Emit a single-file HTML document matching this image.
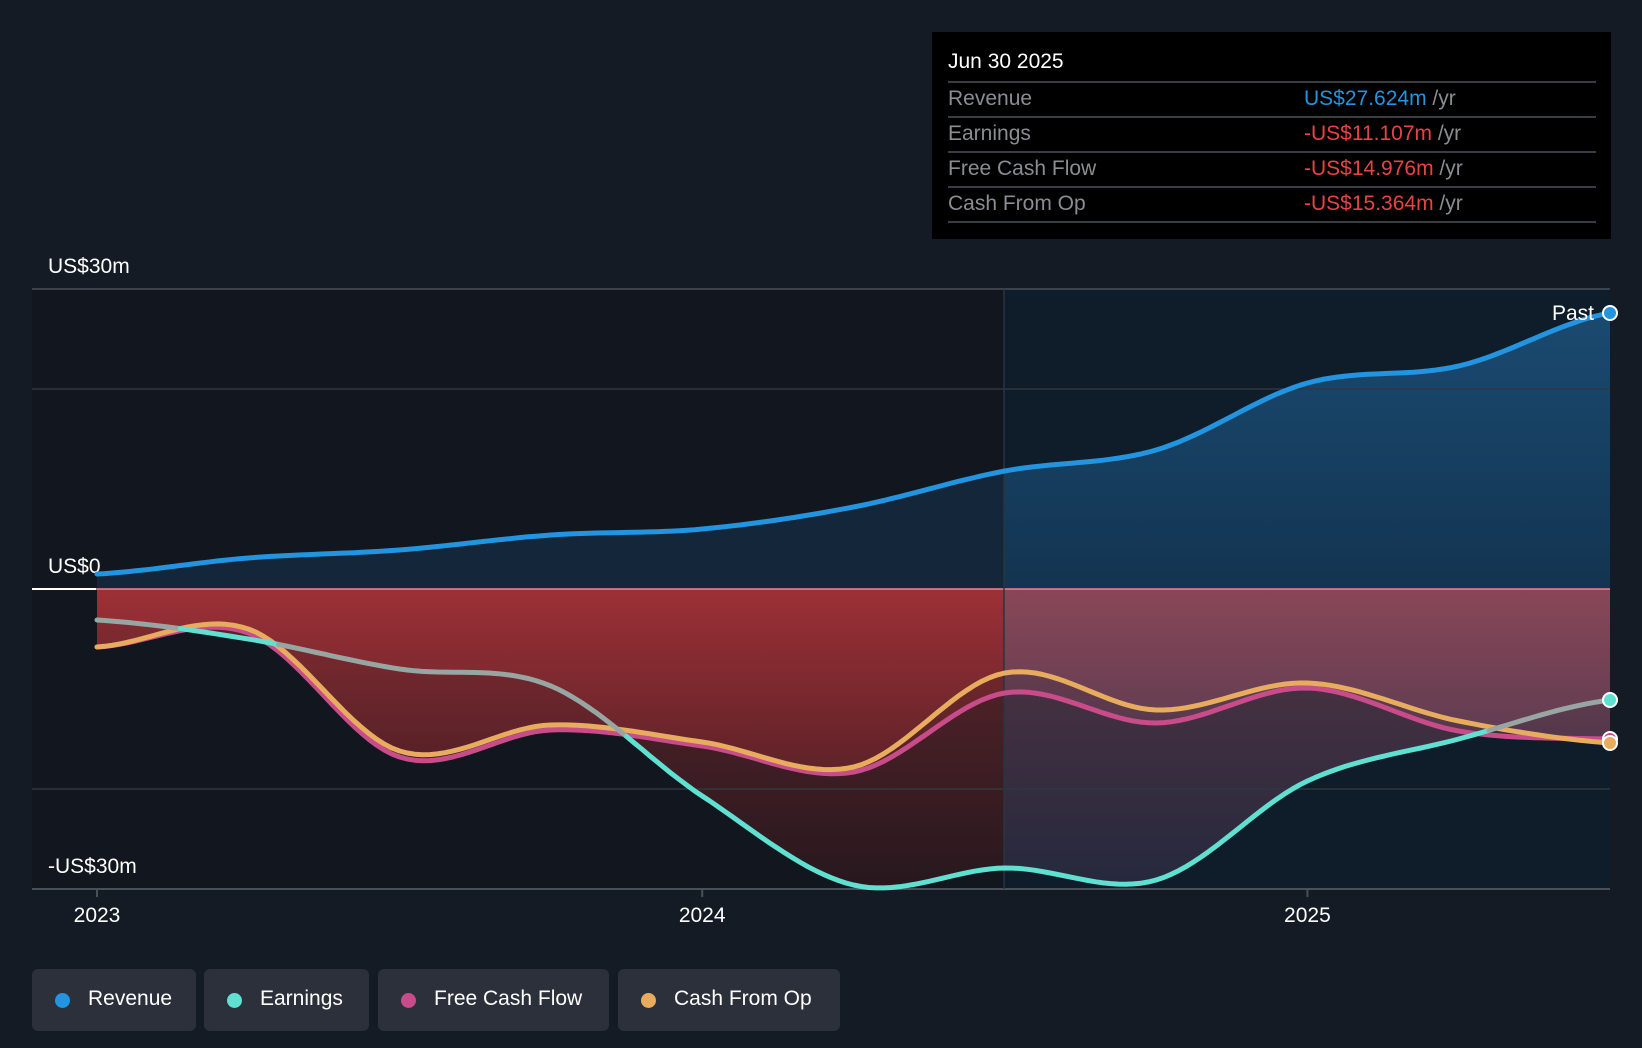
<!DOCTYPE html>
<html><head><meta charset="utf-8">
<style>
html,body{margin:0;padding:0;background:#151b24;width:1642px;height:1048px;overflow:hidden;font-family:"Liberation Sans",sans-serif;}
svg{position:absolute;left:0;top:0;}
.tip{position:absolute;left:932px;top:32px;width:679px;height:207px;background:#000;}
.tip .d{position:absolute;left:16px;top:18px;color:#fff;font-size:21px;}
.row{position:absolute;left:16px;width:648px;height:34px;border-top:2px solid #3a3d42;font-size:21px;color:#8a8d91;}
.row span.l{position:absolute;left:0;top:4px;}
.row span.v{position:absolute;left:356px;top:4px;}
.leg{position:absolute;top:969px;height:62px;background:#2b303a;border-radius:6px;color:#fff;font-size:21px;}
.leg i{position:absolute;left:23px;top:24px;width:15px;height:15px;border-radius:50%;}
.leg span{position:absolute;left:56px;top:18px;}
</style></head><body>
<svg id="chart" width="1642" height="1048"></svg>
<div class="tip">
  <div class="d">Jun 30 2025</div>
  <div class="row" style="top:49px"><span class="l">Revenue</span><span class="v"><b style="font-weight:normal;color:#2394df">US$27.624m</b> /yr</span></div>
  <div class="row" style="top:84px"><span class="l">Earnings</span><span class="v"><b style="font-weight:normal;color:#e84343">-US$11.107m</b> /yr</span></div>
  <div class="row" style="top:119px"><span class="l">Free Cash Flow</span><span class="v"><b style="font-weight:normal;color:#e84343">-US$14.976m</b> /yr</span></div>
  <div class="row" style="top:154px"><span class="l">Cash From Op</span><span class="v"><b style="font-weight:normal;color:#e84343">-US$15.364m</b> /yr</span></div>
  <div class="row" style="top:189px;height:0"></div>
</div>
<div class="leg" style="left:32px;width:164px"><i style="background:#2394df"></i><span>Revenue</span></div>
<div class="leg" style="left:204px;width:165px"><i style="background:#5fe0d0"></i><span>Earnings</span></div>
<div class="leg" style="left:378px;width:231px"><i style="background:#c84b8a"></i><span>Free Cash Flow</span></div>
<div class="leg" style="left:618px;width:222px"><i style="background:#e8ac5e"></i><span>Cash From Op</span></div>
<script>
const times=[0,0.25,0.5,0.75,1,1.25,1.5,1.75,2,2.25,2.5];
const revenue=[1.5,3.1,3.9,5.4,6.0,8.2,11.8,13.9,20.6,22.3,27.6];
const earnings=[-3.1,-5.0,-8.0,-9.7,-20.7,-29.6,-27.9,-29.1,-19.2,-15.0,-11.1];
const fcf=[-5.8,-4.4,-16.8,-14.1,-15.7,-18.3,-10.4,-13.4,-9.9,-14.2,-15.0];
const cfo=[-5.8,-4.0,-16.2,-13.6,-15.3,-17.8,-8.4,-12.1,-9.4,-13.2,-15.4];
const yTicks=[30,0,-30];
const yTickLabels=["US$30m","US$0","-US$30m"];
const gridValues=[30,20,-20,-30];
const xTicks=[0,1,2];
const xTickLabels=["2023","2024","2025"];

const NS="http://www.w3.org/2000/svg";
const svg=document.getElementById('chart');
const L=32,R=1610,T=289,B=889;
const X=t=>97+t*605.2;
const Y=v=>589-v*10;
function el(tag,attrs,parent){const e=document.createElementNS(NS,tag);for(const k in attrs)e.setAttribute(k,attrs[k]);(parent||svg).appendChild(e);return e;}
function sample(vals){const pts=[];const n=vals.length;for(let i=0;i<n-1;i++){const p0=vals[Math.max(0,i-1)],p1=vals[i],p2=vals[i+1],p3=vals[Math.min(n-1,i+2)];for(let s=0;s<20;s++){const u=s/20;const v=0.5*((2*p1)+(-p0+p2)*u+(2*p0-5*p1+4*p2-p3)*u*u+(-p0+3*p1-3*p2+p3)*u*u*u);pts.push([times[i]+(times[i+1]-times[i])*u,v]);}}pts.push([times[n-1],vals[n-1]]);return pts;}
const sR=sample(revenue),sE=sample(earnings),sF=sample(fcf),sC=sample(cfo);

const defs=el('defs',{});
const g1=el('linearGradient',{id:'redL',x1:0,y1:589,x2:0,y2:889,gradientUnits:'userSpaceOnUse'},defs);
el('stop',{offset:'0','stop-color':'#b0343a'},g1);el('stop',{offset:'1','stop-color':'#3a1a1e'},g1);
const g2=el('linearGradient',{id:'redR',x1:0,y1:589,x2:0,y2:889,gradientUnits:'userSpaceOnUse'},defs);
el('stop',{offset:'0','stop-color':'#9a4d5e'},g2);el('stop',{offset:'1','stop-color':'#3a3550'},g2);
const g3=el('linearGradient',{id:'blueR',x1:0,y1:0,x2:0,y2:1},defs);
el('stop',{offset:'0','stop-color':'#1a4a70'},g3);el('stop',{offset:'1','stop-color':'#133451'},g3);
const cpL=el('clipPath',{id:'cL'},defs);el('rect',{x:L,y:0,width:1004-L,height:1048},cpL);
const cpR=el('clipPath',{id:'cR'},defs);el('rect',{x:1004,y:0,width:R-1004,height:1048},cpR);
const cpA=el('clipPath',{id:'cA'},defs);el('rect',{x:L,y:0,width:R-L,height:1048},cpA);

let bg=el('rect',{x:L,y:T,width:1004-L,height:B-T,fill:'#12161e'});

let bg2=el('rect',{x:1004,y:T,width:R-1004,height:B-T,fill:'#0f1c29'});


const toPts=s=>s.map(p=>X(p[0]).toFixed(1)+','+Y(p[1]).toFixed(1)).join(' ');
const revArea=toPts(sR)+' '+X(times[times.length-1])+','+Y(0)+' '+X(times[0])+','+Y(0);
let a1=el('polygon',{points:revArea,fill:'#13263a','clip-path':'url(#cL)'});

let a2=el('polygon',{points:revArea,fill:'url(#blueR)','clip-path':'url(#cR)'});

[[sE,'earnings-area'],[sF,'fcf-area'],[sC,'cfo-area']].forEach(d=>{
  const s=d[0].map(p=>[p[0],Math.min(p[1],0)]);
  const pts=toPts(s)+' '+X(times[times.length-1])+','+Y(0)+' '+X(times[0])+','+Y(0);
  let p1=el('polygon',{points:pts,fill:'url(#redL)','fill-opacity':0.5,'clip-path':'url(#cL)'});
  
  let p2=el('polygon',{points:pts,fill:'url(#redR)','fill-opacity':0.5,'clip-path':'url(#cR)'});
  
});

gridValues.forEach(v=>{let g=el('line',{x1:L,x2:R,y1:Y(v),y2:Y(v),stroke:v==-30||v==30?'#4a5058':'#2f3640','stroke-width':v==-30?2:1.5});
});
let zl=el('line',{x1:L,x2:96,y1:Y(0),y2:Y(0),stroke:'#fff','stroke-width':2});

let zl2=el('line',{x1:96,x2:R,y1:Y(0),y2:Y(0),stroke:'#e58a8e','stroke-width':1.5});

let dv=el('line',{x1:1004,x2:1004,y1:T,y2:B,stroke:'#2a3440','stroke-width':1.5});


yTicks.forEach((v,i)=>{let t=el('text',{x:48,y:Y(v)-16,fill:'#fff','font-size':21,'font-family':'Liberation Sans, sans-serif'});t.textContent=yTickLabels[i];
});
xTicks.forEach((v,i)=>{let tk=el('line',{x1:X(v),x2:X(v),y1:B,y2:B+8,stroke:'#4a5058','stroke-width':2});

let t=el('text',{x:X(v),y:922,fill:'#fff','font-size':21,'text-anchor':'middle','font-family':'Liberation Sans, sans-serif'});t.textContent=xTickLabels[i];
});

const gl=el('g',{'clip-path':'url(#cA)','stroke-linecap':'round','stroke-linejoin':'round',fill:'none'});
function line(s,color,name){let p=el('polyline',{points:toPts(s),stroke:color,'stroke-width':5},gl);
}
line(sF,'#c84b8a','fcf-line');
line(sC,'#e8ac5e','cfo-line');
let seg=[sE[0]],grey=sE[0][1]>Math.min(sF[0][1],sC[0][1]);
function flushSeg(){if(seg.length>1){let p=el('polyline',{points:toPts(seg),stroke:grey?'#97a6a2':'#5fe0d0','stroke-width':5},gl);
}}
for(let i=1;i<sE.length;i++){const g=sE[i][1]>Math.min(sF[i][1],sC[i][1])+0.3;seg.push(sE[i]);if(g!==grey){flushSeg();seg=[sE[i]];grey=g;}}
flushSeg();
line(sR,'#2394df','revenue-line');

const n=times.length-1;
[[fcf,'#c84b8a','fcf-end-dot'],[cfo,'#e8ac5e','cfo-end-dot'],[earnings,'#5fe0d0','earnings-end-dot'],[revenue,'#2394df','revenue-end-dot']].forEach(d=>{
let c=el('circle',{cx:X(times[n]),cy:Y(d[0][n]),r:7,fill:d[1],stroke:'#fff','stroke-width':2});
});
let pl=el('text',{x:1594,y:320,fill:'#fff','font-size':21,'text-anchor':'end','font-family':'Liberation Sans, sans-serif'});pl.textContent='Past';

</script>
</body></html>
